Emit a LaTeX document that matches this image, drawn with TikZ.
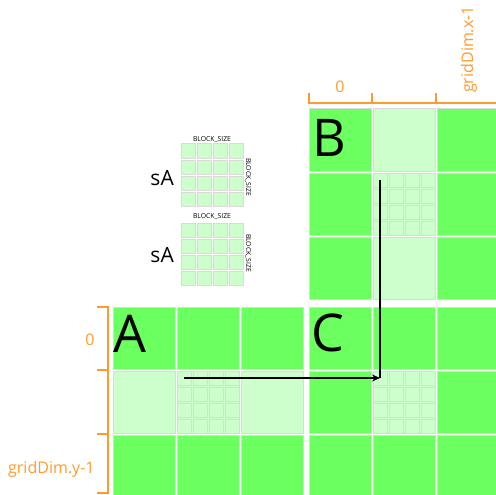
\documentclass[tikz,border=0pt]{standalone}
\usepackage{fontspec}
\setmainfont{Open Sans}
\usetikzlibrary{arrows.meta,calc}
\definecolor{tilegreen}{HTML}{6BFF5F}
\definecolor{palegreen}{HTML}{CCFFCC}
\definecolor{gridgray}{HTML}{DADADA}
\definecolor{bracket}{HTML}{FF9A2E}

\begin{document}
\begin{tikzpicture}[
  x=1pt, y=-1pt,
  every node/.style={inner sep=0pt},
  tile/.style={draw=gridgray, line width=1pt, fill=tilegreen, minimum size=62pt},
  paletile/.style={tile, fill=palegreen},
  subtile/.style={draw=gridgray, line width=1pt, fill=palegreen, minimum size=14pt},
  big/.style={font=\fontsize{52}{52}\selectfont},
  dimlabel/.style={text=bracket, font=\fontsize{16}{16}\selectfont},
  tiny/.style={font=\fontsize{6.8}{7}\selectfont},
  brace/.style={draw=bracket, line width=2.5pt},
  arr/.style={-{Stealth[length=8pt,width=7pt]}, line width=1.2pt}
]
\useasboundingbox (0,0) rectangle (496,495);

% the three matrices
\foreach \m/\ox/\oy in {A/112/306, B/308/108, C/308/306}
  \foreach \i in {0,1,2}
    \foreach \j in {0,1,2}
      \node[tile] (\m-\i-\j) at (\ox+64*\j+32, \oy+64*\i+32) {};
\foreach \c in {A-1-0, A-1-1, A-1-2, B-0-1, B-1-1, B-2-1, C-1-1}
  \node[paletile] at (\c) {};

% tiles split into BLOCK_SIZE x BLOCK_SIZE
\foreach \c in {A-1-1, B-1-1, C-1-1}
  \foreach \k in {0,...,3}
    \foreach \l in {0,...,3}
      \node[subtile] (\c-\k-\l) at ($(\c)+(-24+16*\l, -24+16*\k)$) {};

% shared memory blocks
\foreach \s/\oy in {1/143, 2/222}
  \foreach \k in {0,...,3}
    \foreach \l in {0,...,3}
      \node[subtile] (sA\s-\k-\l) at (188+16*\l, \oy+8+16*\k) {};
\node[tiny] (top1) at (212,140) {BLOCK\_SIZE};
\node[tiny, rotate=-90] (side1) at (248,177) {BLOCK\_SIZE};
\node[tiny] (top2) at (212,217) {BLOCK\_SIZE};
\node[tiny, rotate=-90] (side2) at (248,253) {BLOCK\_SIZE};
\node[font=\fontsize{21}{21}\selectfont, anchor=base east] (sa1) at (174,185) {sA};
\node[font=\fontsize{21}{21}\selectfont, anchor=base east] (sa2) at (174,262) {sA};

% matrix letters
\node[big, anchor=base] (la) at (130,352) {A};
\node[big, anchor=base] (lb) at (329,157) {B};
\node[big, anchor=base] (lc) at (328,351) {C};

% block index brackets
\draw[brace] (309,93) -- (309,103) -- (498,103);
\foreach \x in {372,436}
  \draw[brace] (\x,93) -- (\x,103);
\draw[brace] (97,307) -- (108,307) -- (108,493) -- (97,493);
\foreach \y in {370,434}
  \draw[brace] (97,\y) -- (108,\y);
\node[dimlabel] (x0) at (340,86.5) {0};
\node[dimlabel, rotate=90, anchor=base west] (xn) at (473,93) {gridDim.x-1};
\node[dimlabel] (y0) at (90,340) {0};
\node[dimlabel, anchor=base west] (yn) at (8,473) {gridDim.y-1};

% row of A times column of B
\draw[line width=1.2pt] (B-1-1-0-0.center) -- (C-1-1-0-0.center);
\draw[arr] (A-1-1-0-0.center) -- (C-1-1-0-0.center);
\end{tikzpicture}
\end{document}
